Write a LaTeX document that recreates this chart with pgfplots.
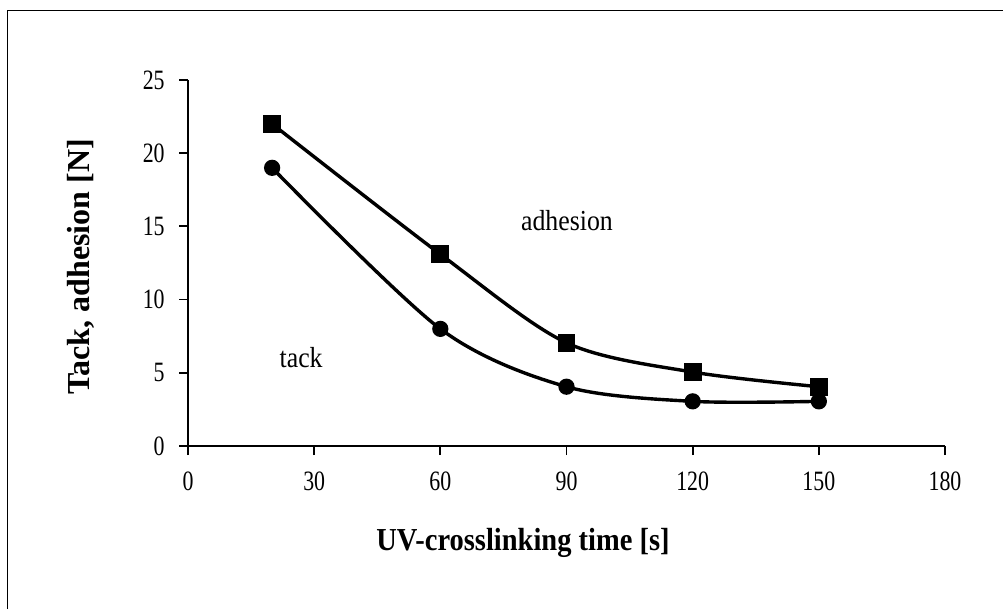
\documentclass[border=0pt]{standalone}
\usepackage{pgfplots}
\pgfplotsset{compat=1.18}
\usepackage{fontspec}
\setmainfont{Liberation Serif}
\usepackage{graphicx}
\newcommand{\sq}[1]{\scalebox{0.89}[1]{#1}}
\newcommand{\sqt}[1]{\scalebox{0.78}[1]{#1}}
\pgfplotstableread{
x y
20 22
60 13.1
90 7.05
120 5.05
150 4.05
}\adhesion
\pgfplotstableread{
x y
20 19
60 8
90 4.05
120 3.05
150 3.05
}\tack
\begin{document}
\begin{tikzpicture}
\begin{axis}[
  scale only axis, width=378.5pt, height=183pt,
  xmin=0, xmax=180, ymin=0, ymax=25,
  xtick={0,30,...,180}, ytick={0,5,...,25},
  axis x line=bottom, axis y line=left,
  axis line style={-, line width=1pt, black},
  tick style={line width=0.9pt, black},
  tick align=outside, major tick length=4.5pt,
  /pgf/number format/assume math mode=true,
  ticklabel style={font=\fontsize{14}{16}\selectfont},
  xticklabel={\sqt{\pgfmathprintnumber{\tick}}},
  yticklabel={\sqt{\pgfmathprintnumber{\tick}}},
  xticklabel style={anchor=north, inner sep=0pt, yshift=-8pt},
  yticklabel style={anchor=east, inner sep=0pt, xshift=-7pt},
  clip=false,
]
\addplot[black, line width=1.7pt, smooth, mark=square*, mark size=3.6pt, mark options={solid}] table {\adhesion};
\addplot[black, line width=1.7pt, smooth, mark=*, mark size=3.2pt, mark options={solid}] table {\tack};
\node[anchor=base, font=\fontsize{14.5}{16}\selectfont] at (axis cs:90.1,14.75) {\sq{adhesion}};
\node[anchor=base, font=\fontsize{14.5}{16}\selectfont] at (axis cs:26.9,5.35) {\sq{tack}};
\node[anchor=base, font=\fontsize{16}{18}\selectfont\bfseries] at (rel axis cs:0.4425,-0.2842) {\sq{UV-crosslinking time [s]}};
\node[anchor=base, rotate=90, font=\fontsize{16}{18}\selectfont\bfseries] at (rel axis cs:-0.1301,0.489) {Tack, adhesion [N]};
\coordinate (bl) at (rel axis cs:-0.24835,-0.44536);
\coordinate (tr) at (rel axis cs:1.07662,1.21858);
\coordinate (fl) at (rel axis cs:-0.23844,1.18989);
\coordinate (fb) at (rel axis cs:-0.23844,-0.44536);
\coordinate (fr) at (rel axis cs:1.07662,1.18989);
\end{axis}
\draw[line width=0.7pt, black] (fb) -- (fl) -- (fr);
\pgfresetboundingbox
\path (bl) rectangle (tr);
\end{tikzpicture}
\end{document}
